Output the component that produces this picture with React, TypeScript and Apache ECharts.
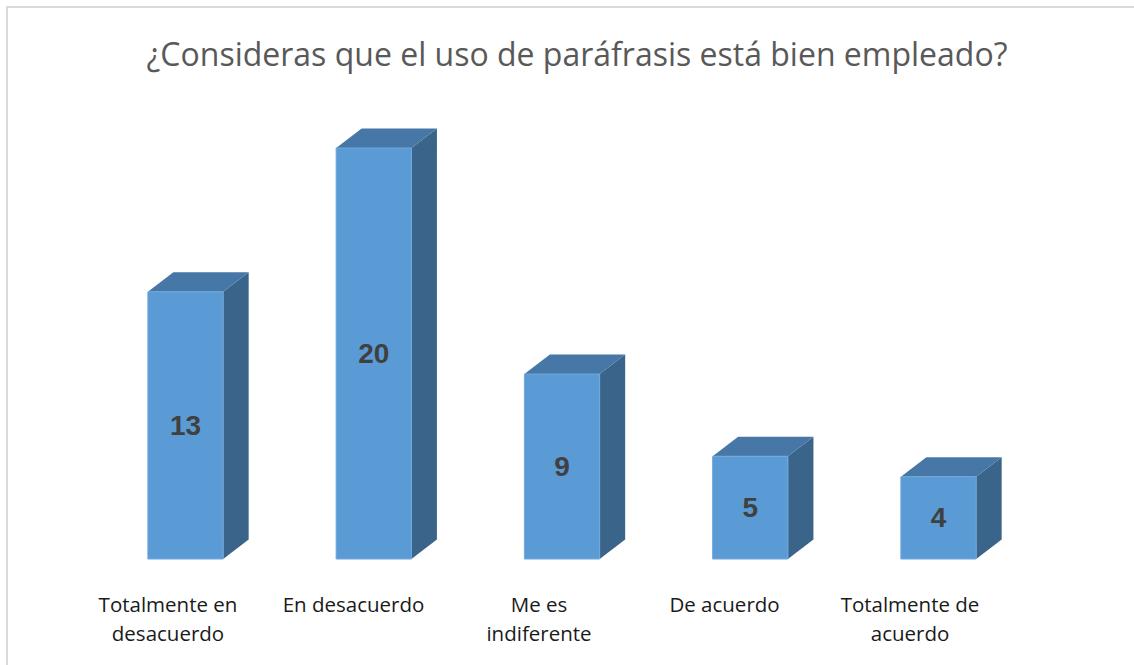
import React, { useEffect, useRef } from "react";
import * as echarts from "echarts";

const titleText = "¿Consideras que el uso de paráfrasis está bien empleado?";
const categories = [
  "Totalmente en\ndesacuerdo",
  "En desacuerdo",
  "Me es\nindiferente",
  "De acuerdo",
  "Totalmente de\nacuerdo",
];
const values = [13, 20, 9, 5, 4];
const yMin = 0;
const yMax = 20;

const FRONT = "#5B9BD5";
const TOP = "#4677A6";
const SIDE = "#3A6489";
const DX = 25.5;
const DY = -19.5;

export default function App() {
  const ref = useRef<HTMLDivElement>(null);
  useEffect(() => {
    if (!ref.current) return;
    const chart = echarts.init(ref.current, null, { renderer: "svg" });
    const option: any = {
      animation: false,
      backgroundColor: "#ffffff",
      title: {
        text: titleText,
        left: 572,
        top: 32,
        textAlign: "center",
        textStyle: {
          fontFamily: "Open Sans",
          fontSize: 32,
          fontWeight: "normal",
          color: "#595959",
        },
      },
      graphic: [
        {
          type: "rect",
          shape: { x: 7, y: 7, width: 1160, height: 700 },
          style: { fill: "none", stroke: "#d9d9d9", lineWidth: 2 },
          silent: true,
        },
      ],
      grid: [
        { left: 91.4, width: 941.25, top: 148, height: 411 },
        { left: 75.25, width: 927.5, top: 148, height: 411 },
      ],
      xAxis: [
        {
          gridIndex: 0,
          type: "category",
          data: categories,
          show: false,
        },
        {
          gridIndex: 1,
          type: "category",
          data: categories,
          axisLine: { show: false },
          axisTick: { show: false },
          axisLabel: {
            interval: 0,
            margin: 30,
            fontFamily: "Open Sans",
            fontSize: 20.5,
            lineHeight: 29,
            color: "#1a1a1a",
            align: "center",
          },
        },
      ],
      yAxis: [
        { gridIndex: 0, type: "value", min: yMin, max: yMax, show: false },
        { gridIndex: 1, type: "value", min: yMin, max: yMax, show: false },
      ],
      series: [
        {
          type: "custom",
          xAxisIndex: 0,
          yAxisIndex: 0,
          data: values.map((v, i) => [i, v]),
          renderItem: (params: any, api: any) => {
            const idx = api.value(0);
            const val = api.value(1);
            const top = api.coord([idx, val]);
            const base = api.coord([idx, 0]);
            const band = api.size([1, 0])[0];
            const w = band * 0.4;
            const x0 = top[0] - w / 2;
            const x1 = top[0] + w / 2;
            const yT = top[1];
            const yB = base[1];
            return {
              type: "group",
              children: [
                {
                  type: "polygon",
                  shape: {
                    points: [
                      [x1, yT],
                      [x1 + DX, yT + DY],
                      [x1 + DX, yB + DY],
                      [x1, yB],
                    ],
                  },
                  style: { fill: SIDE },
                },
                {
                  type: "polygon",
                  shape: {
                    points: [
                      [x0, yT],
                      [x0 + DX, yT + DY],
                      [x1 + DX, yT + DY],
                      [x1, yT],
                    ],
                  },
                  style: { fill: TOP },
                },
                {
                  type: "rect",
                  shape: { x: x0, y: yT, width: w, height: yB - yT },
                  style: { fill: FRONT, stroke: "#6FA8DC", lineWidth: 1 },
                },
                {
                  type: "text",
                  style: {
                    text: String(val),
                    x: top[0],
                    y: (yT + yB) / 2,
                    align: "center",
                    verticalAlign: "middle",
                    fontFamily: "Liberation Sans",
                    fontWeight: "bold",
                    fontSize: 28,
                    fill: "#404040",
                  },
                },
              ],
            };
          },
        },
      ],
    };
    chart.setOption(option);
    return () => chart.dispose();
  }, []);
  return (
    <div
      ref={ref}
      style={{ position: "fixed", left: 0, top: 0, width: 1134, height: 665 }}
    />
  );
}
